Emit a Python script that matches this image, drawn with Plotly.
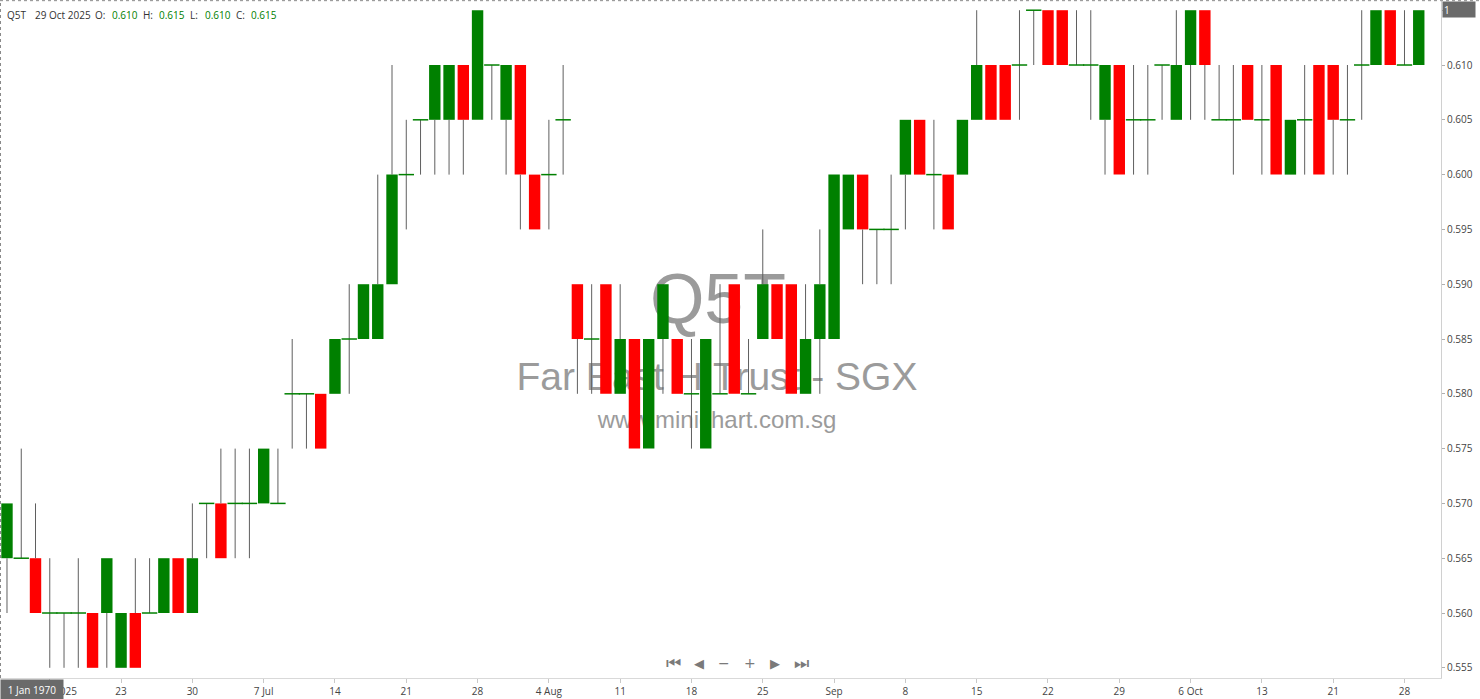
import pandas as pd
import plotly.graph_objects as go

# ---------------- data ----------------
holidays = ["2025-10-20"]
dates = [d.strftime("%Y-%m-%d") for d in pd.bdate_range("2025-06-11", "2025-10-29")
         if d.strftime("%Y-%m-%d") not in holidays]

opens = [0.565, 0.565, 0.565, 0.560, 0.560, 0.560, 0.560, 0.560, 0.555, 0.560,
         0.560, 0.560, 0.565, 0.560, 0.570, 0.570, 0.570, 0.570, 0.570, 0.570,
         0.580, 0.580, 0.580, 0.580, 0.585, 0.585, 0.585, 0.590, 0.600, 0.605,
         0.605, 0.605, 0.610, 0.605, 0.610, 0.605, 0.610, 0.600, 0.600, 0.605,
         0.590, 0.585, 0.590, 0.580, 0.585, 0.575, 0.585, 0.585, 0.580, 0.575,
         0.580, 0.590, 0.580, 0.585, 0.590, 0.590, 0.580, 0.585, 0.585, 0.595,
         0.600, 0.595, 0.595, 0.600, 0.605, 0.600, 0.600, 0.600, 0.605, 0.610,
         0.610, 0.610, 0.615, 0.615, 0.615, 0.610, 0.610, 0.605, 0.610, 0.605,
         0.605, 0.610, 0.605, 0.610, 0.615, 0.605, 0.605, 0.610, 0.605, 0.610,
         0.600, 0.605, 0.610, 0.610, 0.605, 0.610, 0.610, 0.615, 0.610, 0.610]
highs = [0.570, 0.575, 0.570, 0.565, 0.560, 0.565, 0.560, 0.565, 0.560, 0.565,
         0.565, 0.565, 0.565, 0.570, 0.570, 0.575, 0.575, 0.575, 0.575, 0.575,
         0.585, 0.580, 0.580, 0.585, 0.590, 0.590, 0.600, 0.610, 0.605, 0.605,
         0.610, 0.610, 0.610, 0.615, 0.610, 0.610, 0.610, 0.600, 0.605, 0.610,
         0.590, 0.590, 0.590, 0.590, 0.585, 0.585, 0.590, 0.585, 0.585, 0.585,
         0.590, 0.590, 0.585, 0.595, 0.590, 0.590, 0.590, 0.595, 0.600, 0.600,
         0.600, 0.595, 0.600, 0.605, 0.605, 0.605, 0.600, 0.605, 0.615, 0.610,
         0.610, 0.615, 0.615, 0.615, 0.615, 0.615, 0.615, 0.610, 0.610, 0.610,
         0.610, 0.610, 0.615, 0.615, 0.615, 0.610, 0.610, 0.610, 0.610, 0.610,
         0.605, 0.610, 0.610, 0.610, 0.610, 0.615, 0.615, 0.615, 0.615, 0.615]
lows = [0.560, 0.565, 0.560, 0.555, 0.555, 0.555, 0.555, 0.555, 0.555, 0.555,
        0.560, 0.560, 0.560, 0.560, 0.565, 0.565, 0.565, 0.565, 0.570, 0.570,
        0.575, 0.575, 0.575, 0.580, 0.580, 0.585, 0.585, 0.590, 0.595, 0.600,
        0.600, 0.600, 0.600, 0.605, 0.605, 0.600, 0.595, 0.595, 0.595, 0.600,
        0.580, 0.580, 0.580, 0.580, 0.575, 0.575, 0.580, 0.580, 0.575, 0.575,
        0.580, 0.580, 0.580, 0.585, 0.585, 0.580, 0.580, 0.580, 0.585, 0.595,
        0.590, 0.590, 0.590, 0.595, 0.600, 0.595, 0.595, 0.600, 0.605, 0.605,
        0.605, 0.605, 0.610, 0.610, 0.610, 0.610, 0.605, 0.600, 0.600, 0.600,
        0.600, 0.605, 0.605, 0.605, 0.605, 0.605, 0.600, 0.605, 0.600, 0.600,
        0.600, 0.600, 0.600, 0.600, 0.600, 0.605, 0.610, 0.610, 0.610, 0.610]
closes = [0.570, 0.565, 0.560, 0.560, 0.560, 0.560, 0.555, 0.565, 0.560, 0.555,
          0.560, 0.565, 0.560, 0.565, 0.570, 0.565, 0.570, 0.570, 0.575, 0.570,
          0.580, 0.580, 0.575, 0.585, 0.585, 0.590, 0.590, 0.600, 0.600, 0.605,
          0.610, 0.610, 0.605, 0.615, 0.610, 0.610, 0.600, 0.595, 0.600, 0.605,
          0.585, 0.585, 0.580, 0.585, 0.575, 0.585, 0.590, 0.580, 0.580, 0.585,
          0.580, 0.580, 0.580, 0.590, 0.585, 0.580, 0.585, 0.590, 0.600, 0.600,
          0.595, 0.595, 0.595, 0.605, 0.600, 0.600, 0.595, 0.605, 0.610, 0.605,
          0.605, 0.610, 0.615, 0.610, 0.610, 0.610, 0.610, 0.610, 0.600, 0.605,
          0.605, 0.610, 0.610, 0.615, 0.610, 0.605, 0.605, 0.605, 0.605, 0.600,
          0.605, 0.605, 0.600, 0.605, 0.605, 0.610, 0.615, 0.610, 0.610, 0.615]

tick_labels = ["16 Jun 2025", "23", "30", "7 Jul", "14", "21", "28", "4 Aug", "11", "18",
               "25", "Sep", "8", "15", "22", "29", "6 Oct", "13", "21", "28"]
tick_dates = dates[3::5]

symbol = "Q5T"
company = "Far East H Trust - SGX"
site = "www.minichart.com.sg"

UP = "#008000"
DOWN = "#ff0000"
WICK = "#5f5f5f"

# ---------------- traces ----------------
body_top = [max(o, c) for o, c in zip(opens, closes)]
body_base = [min(o, c) for o, c in zip(opens, closes)]
body_len = [abs(c - o) for o, c in zip(opens, closes)]
body_col = [UP if c >= o else DOWN for o, c in zip(opens, closes)]

# wicks: only the parts outside the body (bars are always drawn beneath lines)
wx, wy = [], []
for d, lo, hi, bt, bb in zip(dates, lows, highs, body_top, body_base):
    if hi > bt:
        wx += [d, d, None]
        wy += [bt, hi, None]
    if lo < bb:
        wx += [d, d, None]
        wy += [lo, bb, None]

doji_x = [d for d, o, c in zip(dates, opens, closes) if o == c]
doji_y = [c for o, c in zip(opens, closes) if o == c]

fig = go.Figure()
fig.add_trace(go.Bar(x=dates, y=body_len, base=body_base, width=0.8,
                     marker=dict(color=body_col, line=dict(width=0)),
                     hoverinfo="skip", showlegend=False))
fig.add_trace(go.Scatter(x=wx, y=wy, mode="lines", line=dict(color=WICK, width=1),
                         hoverinfo="skip", showlegend=False))
fig.add_trace(go.Scatter(x=doji_x, y=doji_y, mode="markers",
                         marker=dict(symbol="line-ew", size=11, line=dict(color=UP, width=1.5)),
                         hoverinfo="skip", showlegend=False))

PW = 1441.0   # plot width px
PH = 677.0    # plot height px


def px(x):
    return x / PW


def py(y):
    return (678.0 - y) / PH


shapes = []
# watermark (below the data)
for txt, cx, cy, size in [(symbol, 718, 292, 70), (company, 717, 372, 39), (site, 717, 417, 24)]:
    shapes.append(dict(type="rect", xref="paper", yref="paper", layer="below",
                       x0=px(cx) - 0.2, x1=px(cx) + 0.2, y0=py(cy) - 0.03, y1=py(cy) + 0.03,
                       line=dict(width=0), fillcolor="rgba(0,0,0,0)",
                       label=dict(text=txt, textposition="middle center",
                                  font=dict(family="Liberation Sans, Arial", size=size, color="#9b9b9b"))))
# dotted top / left border
shapes.append(dict(type="line", xref="paper", yref="paper", x0=0, x1=1.027, y0=1.0005, y1=1.0005,
                   line=dict(color="#8a8a8a", width=1, dash="dot")))
shapes.append(dict(type="line", xref="paper", yref="paper", x0=px(0.5), x1=px(0.5), y0=0, y1=1,
                   line=dict(color="#8a8a8a", width=1, dash="dot")))
# green strip under last-price box
shapes.append(dict(type="line", xref="paper", yref="paper", x0=px(1446), x1=px(1474),
                   y0=py(16), y1=py(16), line=dict(color=UP, width=2)))

annotations = []
info_font = "Open Sans, Segoe UI, sans-serif"
info = [("Q5T", 5, "#333333"), ("29 Oct 2025", 33, "#333333"), ("O:", 93, "#333333"),
        ("0.610", 110, UP), ("H:", 141, "#333333"), ("0.615", 157, UP),
        ("L:", 188, "#333333"), ("0.610", 203, UP), ("C:", 234, "#333333"), ("0.615", 249, UP)]
for t, x, col in info:
    annotations.append(dict(text=t, xref="paper", yref="paper", x=px(x), y=py(15),
                            xanchor="left", yanchor="middle", showarrow=False,
                            font=dict(family=info_font, size=10, color=col)))

# navigation icons
for t, x, s in [("⏮", 673, 17), ("◀", 699, 13), ("−", 724, 14), ("+", 750, 14), ("▶", 775, 13), ("⏭", 801, 17)]:
    annotations.append(dict(text=t, xref="paper", yref="paper", x=px(x), y=py(663),
                            xanchor="center", yanchor="middle", showarrow=False,
                            font=dict(family="DejaVu Sans", size=s, color="#7a7a7a")))

# last price box
annotations.append(dict(text="1", xref="paper", yref="paper", x=1.0005, y=py(1),
                        xanchor="left", yanchor="top", showarrow=False, align="left",
                        width=30, height=13, bgcolor="#6a6a6a", borderpad=1,
                        font=dict(family=info_font, size=10, color="white")))
# crosshair date box
annotations.append(dict(text="1 Jan 1970", xref="paper", yref="paper", x=0, y=py(679),
                        xanchor="left", yanchor="top", showarrow=False,
                        width=60, height=18, bgcolor="#6a6a6a", borderpad=1,
                        font=dict(family=info_font, size=10, color="white")))

fig.update_layout(
    width=1480, height=699,
    margin=dict(l=0, r=39, t=1, b=21),
    paper_bgcolor="white", plot_bgcolor="white",
    bargap=0.2, showlegend=False,
    shapes=shapes, annotations=annotations,
    font=dict(family=info_font, size=10, color="#444444"),
    xaxis=dict(type="category", range=[-0.49, 100.56], tickmode="array",
               tickvals=tick_dates, ticktext=tick_labels, showgrid=False, zeroline=False,
               showline=True, linecolor="#d9d9d9", ticks="outside", ticklen=4,
               tickcolor="#c8c8c8", tickfont=dict(size=10, color="#444444"),
               fixedrange=True),
    yaxis=dict(side="right", range=[0.55407, 0.61584], dtick=0.005, tick0=0.555,
               tickformat=".3f", showgrid=False, zeroline=False, showline=True,
               linecolor="#d0d0d0", ticks="outside", ticklen=3, tickcolor="#b0b0b0",
               tickfont=dict(size=10, color="#444444"), fixedrange=True),
)

fig.write_html("out.html", config={"displayModeBar": False},
               post_script="document.body.style.margin='0';document.body.style.overflow='hidden';")
